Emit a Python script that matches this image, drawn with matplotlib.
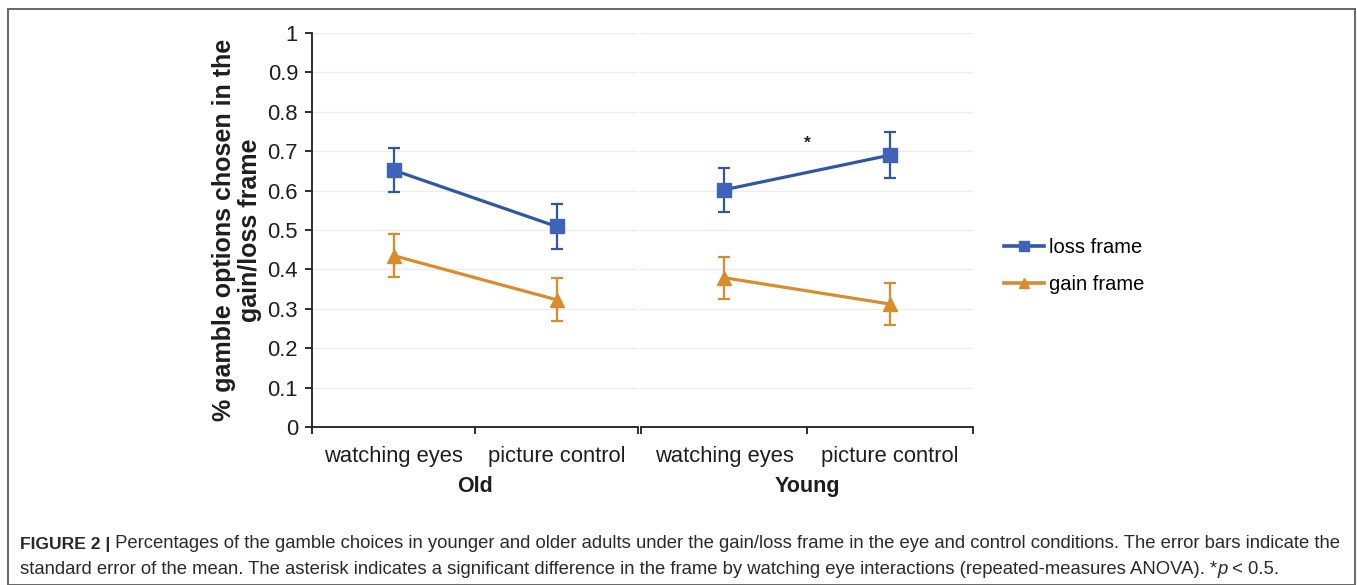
import matplotlib
matplotlib.use("Agg")
import matplotlib.pyplot as plt
from matplotlib.patches import Rectangle

# ---- data ----
groups = ["Old", "Young"]
conditions = ["watching eyes", "picture control"]
loss_mean = {"Old": [0.652, 0.509], "Young": [0.602, 0.690]}
loss_err = {"Old": [0.056, 0.057], "Young": [0.056, 0.058]}
gain_mean = {"Old": [0.435, 0.323], "Young": [0.379, 0.312]}
gain_err = {"Old": [0.054, 0.054], "Young": [0.053, 0.054]}
y_ticks = [0, 0.1, 0.2, 0.3, 0.4, 0.5, 0.6, 0.7, 0.8, 0.9, 1]
y_tick_labels = ["0", "0.1", "0.2", "0.3", "0.4", "0.5", "0.6", "0.7", "0.8", "0.9", "1"]
series_names = ["loss frame", "gain frame"]
star_pos = ("Young", 0.72)

LOSS_LINE = "#2f57a8"
LOSS_MARK = "#3f63b8"
GAIN_COLOR = "#d98c2c"
INK = "#1e1e1e"

FONT = "Liberation Sans"
plt.rcParams["font.family"] = [FONT, "DejaVu Sans"]

W, H = 1357, 585
fig = plt.figure(figsize=(W / 100, H / 100), dpi=100)


def px_axes(x0, y0, x1, y1):
    return fig.add_axes([x0 / W, 1 - y1 / H, (x1 - x0) / W, (y1 - y0) / H])


top_px, bot_px = 33, 427
ax_left = px_axes(312, top_px, 638, bot_px)
ax_right = px_axes(641, top_px, 973, bot_px)
axes = {"Old": ax_left, "Young": ax_right}

TICK_SIZE = 15.8
cat_x = [0.5, 1.5]
for g, ax in axes.items():
    ax.set_xlim(0, 2)
    ax.set_ylim(0, 1)
    for yv in y_ticks[1:]:
        ax.axhline(yv, color="#ececec", lw=1.0, zorder=0)
    ax.errorbar(cat_x, loss_mean[g], yerr=loss_err[g], color=LOSS_LINE, lw=2.3,
                marker="s", ms=9.5, mfc=LOSS_MARK, mec=LOSS_MARK,
                ecolor=LOSS_LINE, elinewidth=1.6, capsize=4, capthick=1.6, zorder=3)
    ax.errorbar(cat_x, gain_mean[g], yerr=gain_err[g], color=GAIN_COLOR, lw=2.3,
                marker="^", ms=9.5, mfc=GAIN_COLOR, mec=GAIN_COLOR,
                ecolor=GAIN_COLOR, elinewidth=1.6, capsize=4, capthick=1.6, zorder=3)
    for s in ["top", "right", "left"]:
        ax.spines[s].set_visible(False)
    ax.spines["bottom"].set_linewidth(1.3)
    ax.spines["bottom"].set_color(INK)
    ax.set_xticks([0, 1, 2])
    ax.set_xticklabels([])
    ax.tick_params(axis="x", which="major", direction="out", length=5, width=1.3, color=INK)
    ax.set_xticks(cat_x, minor=True)
    ax.set_xticklabels(conditions, minor=True)
    ax.tick_params(axis="x", which="minor", length=0, pad=14, labelsize=TICK_SIZE,
                   labelcolor=INK)
    ax.set_facecolor("none")

ax_left.spines["left"].set_visible(True)
ax_left.spines["left"].set_linewidth(1.3)
ax_left.spines["left"].set_color(INK)
ax_left.set_yticks(y_ticks)
ax_left.set_yticklabels(y_tick_labels)
ax_left.tick_params(axis="y", direction="out", length=5, width=1.3, color=INK,
                    labelsize=TICK_SIZE, labelcolor=INK, pad=5)
ax_right.set_yticks([])

for g, ax in axes.items():
    ax.text(0.5, -0.15, g, transform=ax.transAxes, ha="center", va="center",
            fontsize=15.5, fontweight="bold", color=INK)

# significance marker
ax_right.text(1.0, star_pos[1], "*", ha="center", va="center", fontsize=12.5,
              fontweight="bold", color=INK)

ax_left.set_ylabel("% gamble options chosen in the\ngain/loss frame", fontsize=18,
                   fontweight="bold", labelpad=4, linespacing=1.12, color=INK)

# legend
h_loss, = ax_left.plot([], [], color=LOSS_LINE, lw=2.6, marker="s", ms=7.5, mfc=LOSS_MARK, mec=LOSS_MARK)
h_gain, = ax_left.plot([], [], color=GAIN_COLOR, lw=2.6, marker="^", ms=7.5, mfc=GAIN_COLOR, mec=GAIN_COLOR)
fig.legend([h_loss, h_gain], series_names, loc="center left",
           bbox_to_anchor=(1004 / W, 1 - 266 / H), frameon=False, fontsize=14.5,
           handlelength=2.0, handletextpad=0.25, labelspacing=0.88, borderaxespad=0,
           borderpad=0)

# outer frame
fig.patches.append(Rectangle((8 / W, 0), (1355 - 8) / W, (H - 9) / H, transform=fig.transFigure,
                             fill=False, edgecolor="#666666", lw=1.4))

# caption
CAP_INK = "#2a2a2a"
bold_size = 12.6
cap_size = 13.3
line1_y = 1 - 544 / H
line2_y = 1 - 569 / H
t0 = fig.text(20 / W, line1_y, "FIGURE 2 |", fontsize=bold_size, fontweight="bold",
              color=CAP_INK, va="center")
fig.canvas.draw()
bb = t0.get_window_extent()
fig.text(bb.x1 / W, line1_y,
         " Percentages of the gamble choices in younger and older adults under the gain/loss "
         "frame in the eye and control conditions. The error bars indicate the",
         fontsize=cap_size, color=CAP_INK, va="center")

t1 = fig.text(20 / W, line2_y, "standard error of the mean. The asterisk indicates a significant "
              "difference in the frame by watching eye interactions (repeated-measures ANOVA). *",
              fontsize=cap_size, color=CAP_INK, va="center")
fig.canvas.draw()
bb1 = t1.get_window_extent()
t2 = fig.text(bb1.x1 / W, line2_y, "p", fontsize=cap_size, style="italic",
              color=CAP_INK, va="center")
fig.canvas.draw()
bb2 = t2.get_window_extent()
fig.text(bb2.x1 / W, line2_y, " < 0.5.", fontsize=cap_size, color=CAP_INK, va="center")

fig.savefig("out.png", dpi=100)
